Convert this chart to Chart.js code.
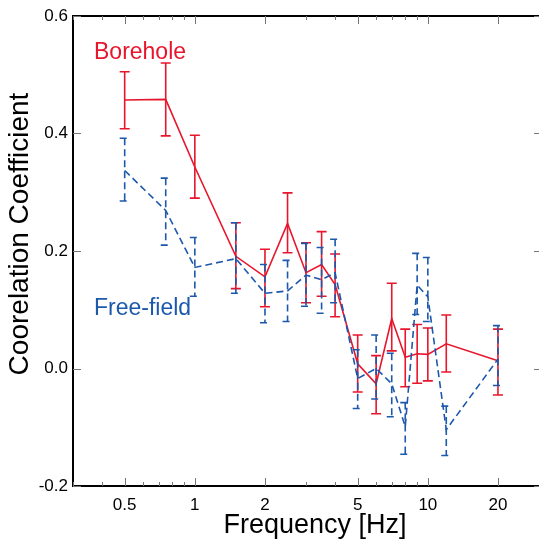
<!DOCTYPE html>
<html lang="en">
<head>
<meta charset="UTF-8">
<title>Coorelation Coefficient vs Frequency</title>
<style>
body { margin: 0; padding: 0; background: #fff; }
#chart { display: block; }
</style>
</head>
<body>
<canvas id="chart" width="539" height="544"></canvas>
<script src="https://cdn.jsdelivr.net/npm/chart.js"></script>
<script>
// frequencies (Hz)
const freqs = [0.5, 0.75, 1, 1.5, 2, 2.5, 3, 3.5, 4, 5, 6, 7, 8, 9, 10, 12, 20];

// Borehole (red, solid)
const boreMean  = [0.457, 0.458, 0.343, 0.191, 0.156, 0.247, 0.163, 0.177, 0.143, 0.008, -0.026, 0.085, 0.019, 0.025, 0.024, 0.042, 0.013];
const boreUpper = [0.505, 0.520, 0.397, 0.248, 0.203, 0.299, 0.214, 0.233, 0.195, 0.057, 0.022, 0.145, 0.067, 0.075, 0.069, 0.091, 0.067];
const boreLower = [0.408, 0.396, 0.290, 0.136, 0.105, 0.197, 0.112, 0.123, 0.088, -0.040, -0.077, 0.030, -0.031, -0.025, -0.021, -0.006, -0.045];

// Free-field (blue, dashed)
const freeMean  = [0.337, 0.269, 0.172, 0.187, 0.128, 0.132, 0.159, 0.151, 0.163, -0.017, 0.000, -0.026, -0.099, 0.142, 0.122, -0.104, 0.016];
const freeUpper = [0.392, 0.324, 0.223, 0.248, 0.177, 0.184, 0.213, 0.206, 0.220, 0.032, 0.057, 0.026, -0.058, 0.196, 0.189, -0.064, 0.073];
const freeLower = [0.285, 0.210, 0.123, 0.128, 0.078, 0.080, 0.106, 0.094, 0.112, -0.068, -0.052, -0.082, -0.146, 0.092, 0.080, -0.148, -0.029];

// axis ticks
const xTickVals = [0.5, 1, 2, 5, 10, 20];
const xMinorVals = [0.3, 0.4, 0.6, 0.7, 0.8, 0.9, 3, 4, 6, 7, 8, 9, 30];
const yTickVals = [-0.2, 0, 0.2, 0.4, 0.6];

const RED = 'rgb(232,22,44)';
const BLUE = 'rgb(28,88,172)';
const FONT = '"Liberation Sans", Arial, sans-serif';

function pts(vals) {
    return freqs.map((f, i) => ({ x: f, y: vals[i] }));
}

// error bars drawn right after each dataset's line
const errorBars = {
    id: 'errorBars',
    afterDatasetDraw(chart, args) {
        const ds = chart.data.datasets[args.index];
        if (!ds.upper) return;
        const x = chart.scales.x, y = chart.scales.y, ctx = chart.ctx;
        ctx.save();
        ctx.strokeStyle = ds.borderColor;
        ctx.lineWidth = ds.borderWidth;
        ctx.setLineDash(ds.borderDash || []);
        freqs.forEach((f, i) => {
            const px = x.getPixelForValue(f);
            const top = y.getPixelForValue(ds.upper[i]);
            const bot = y.getPixelForValue(ds.lower[i]);
            ctx.beginPath();
            ctx.moveTo(px - 5, top); ctx.lineTo(px + 5, top);
            ctx.moveTo(px, top); ctx.lineTo(px, bot);
            ctx.moveTo(px - 5, bot); ctx.lineTo(px + 5, bot);
            ctx.stroke();
        });
        ctx.restore();
    }
};

// frame, inner tick marks, titles and series labels
const frame = {
    id: 'frame',
    beforeDatasetsDraw(chart) {
        const { ctx, chartArea: a, scales: { x, y } } = chart;
        ctx.save();
        ctx.strokeStyle = '#000';
        ctx.lineWidth = 2;
        ctx.beginPath();
        ctx.moveTo(a.left, a.top); ctx.lineTo(a.right, a.top);
        ctx.stroke();

        ctx.strokeStyle = '#777';
        ctx.lineWidth = 1;
        ctx.beginPath();
        const xt = (v, len) => {
            const px = Math.round(x.getPixelForValue(v)) + 0.5;
            ctx.moveTo(px, a.bottom); ctx.lineTo(px, a.bottom - len);
            ctx.moveTo(px, a.top); ctx.lineTo(px, a.top + len);
        };
        xTickVals.forEach(v => xt(v, 8));
        xMinorVals.forEach(v => xt(v, 4));
        yTickVals.forEach(v => {
            const py = Math.round(y.getPixelForValue(v)) + 0.5;
            ctx.moveTo(a.left, py); ctx.lineTo(a.left + 8, py);
            ctx.moveTo(a.right, py); ctx.lineTo(a.right - 5, py);
        });
        ctx.stroke();
        ctx.restore();
    },
    afterDraw(chart) {
        const ctx = chart.ctx;
        ctx.save();
        ctx.fillStyle = '#000';
        ctx.textBaseline = 'alphabetic';
        ctx.textAlign = 'center';
        ctx.font = '27px ' + FONT;
        ctx.fillText('Frequency [Hz]', 315, 533);

        ctx.save();
        ctx.translate(28, 234);
        ctx.rotate(-Math.PI / 2);
        ctx.font = '28px ' + FONT;
        ctx.fillText('Coorelation Coefficient', 0, 0);
        ctx.restore();

        ctx.textAlign = 'left';
        ctx.font = '23px ' + FONT;
        ctx.fillStyle = RED;
        ctx.fillText('Borehole', 94, 59);
        ctx.fillStyle = BLUE;
        ctx.fillText('Free-field', 94, 315);
        ctx.restore();
    }
};

new Chart(document.getElementById('chart'), {
    type: 'line',
    data: {
        datasets: [
            {
                label: 'Free-field',
                data: pts(freeMean),
                upper: freeUpper,
                lower: freeLower,
                borderColor: BLUE,
                borderWidth: 1.6,
                borderDash: [7, 4],
                pointRadius: 0,
                fill: false,
                tension: 0,
                order: 0
            },
            {
                label: 'Borehole',
                data: pts(boreMean),
                upper: boreUpper,
                lower: boreLower,
                borderColor: RED,
                borderWidth: 1.6,
                pointRadius: 0,
                fill: false,
                tension: 0,
                order: 1
            }
        ]
    },
    options: {
        responsive: false,
        animation: false,
        devicePixelRatio: 1,
        layout: { padding: { top: 16, right: 0, left: 0, bottom: 0 } },
        plugins: { legend: { display: false }, tooltip: { enabled: false } },
        scales: {
            x: {
                type: 'logarithmic',
                min: 0.3,
                max: 30,
                grid: { display: false, drawTicks: false },
                border: { display: true, color: '#000', width: 2 },
                afterBuildTicks: s => { s.ticks = xTickVals.map(v => ({ value: v })); },
                ticks: {
                    color: '#000',
                    font: { family: FONT, size: 17 },
                    padding: 9,
                    maxRotation: 0,
                    autoSkip: false,
                    callback: v => String(v)
                },
                afterFit: s => { s.height = 58; }
            },
            y: {
                min: -0.2,
                max: 0.6,
                grid: { display: false, drawTicks: false },
                border: { display: true, color: '#000', width: 2 },
                afterBuildTicks: s => { s.ticks = yTickVals.map(v => ({ value: v })); },
                ticks: {
                    color: '#000',
                    font: { family: FONT, size: 17 },
                    padding: 5,
                    callback: v => v.toFixed(1)
                },
                afterFit: s => { s.width = 73; }
            }
        }
    },
    plugins: [frame, errorBars]
});
</script>
</body>
</html>
